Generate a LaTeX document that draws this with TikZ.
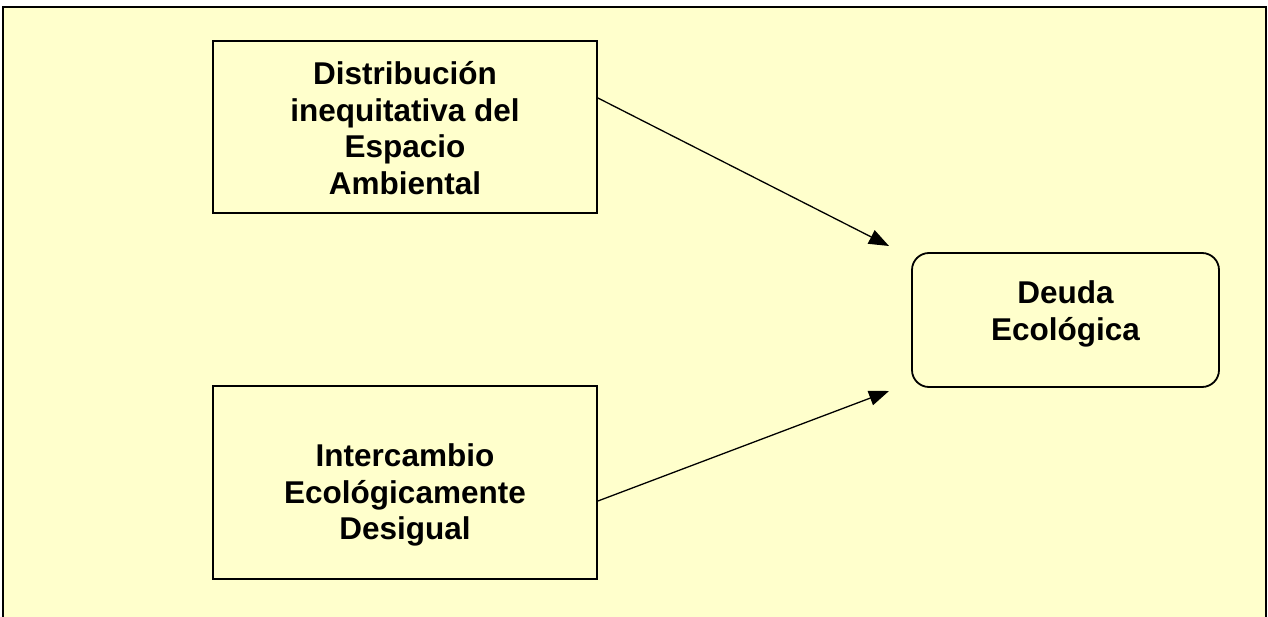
\documentclass[tikz,border=0pt]{standalone}
\usepackage{fontspec}
\setmainfont{Liberation Sans}
\usetikzlibrary{arrows.meta}
\definecolor{bgyellow}{HTML}{FFFFCC}
\tikzset{
  box/.style={draw=black, line width=1.8pt, fill=bgyellow, inner sep=0pt},
  lbl/.style={font=\fontsize{31.5}{36.7}\selectfont\bfseries, align=center, inner sep=0pt},
  conn/.style={draw=black, line width=1.3pt, -{Triangle[length=20pt,width=15pt]}}
}
\begin{document}
\begin{tikzpicture}[x=1pt,y=-1pt]
\useasboundingbox (0,0) rectangle (1268,617);
\begin{scope}
\clip (0,0) rectangle (1268,617);
\draw[line width=2pt, fill=bgyellow] (3,7) rectangle (1266,640);
\end{scope}
\node[box, minimum width=384pt, minimum height=172pt] (top) at (405,127) {};
\node[lbl] (toptext) at (405,128) {Distribución\\inequitativa del\\Espacio\\Ambiental};
\node[box, minimum width=384pt, minimum height=193pt] (bot) at (405,482.5) {};
\node[lbl] (bottext) at (405,495) {Intercambio\\Ecológicamente\\Desigual};
\node[box, rounded corners=17pt, minimum width=307pt, minimum height=134pt] (deuda) at (1065.5,320) {};
\node[lbl] (deudatext) at (1065.5,314) {Deuda\\Ecológica};
\coordinate (t1) at (top.east |- 0,98);
\coordinate (t2) at (889,246);
\coordinate (b1) at (bot.east |- 0,501);
\coordinate (b2) at (889,391);
\draw[conn] (t1) -- (t2);
\draw[conn] (b1) -- (b2);
\end{tikzpicture}
\end{document}
